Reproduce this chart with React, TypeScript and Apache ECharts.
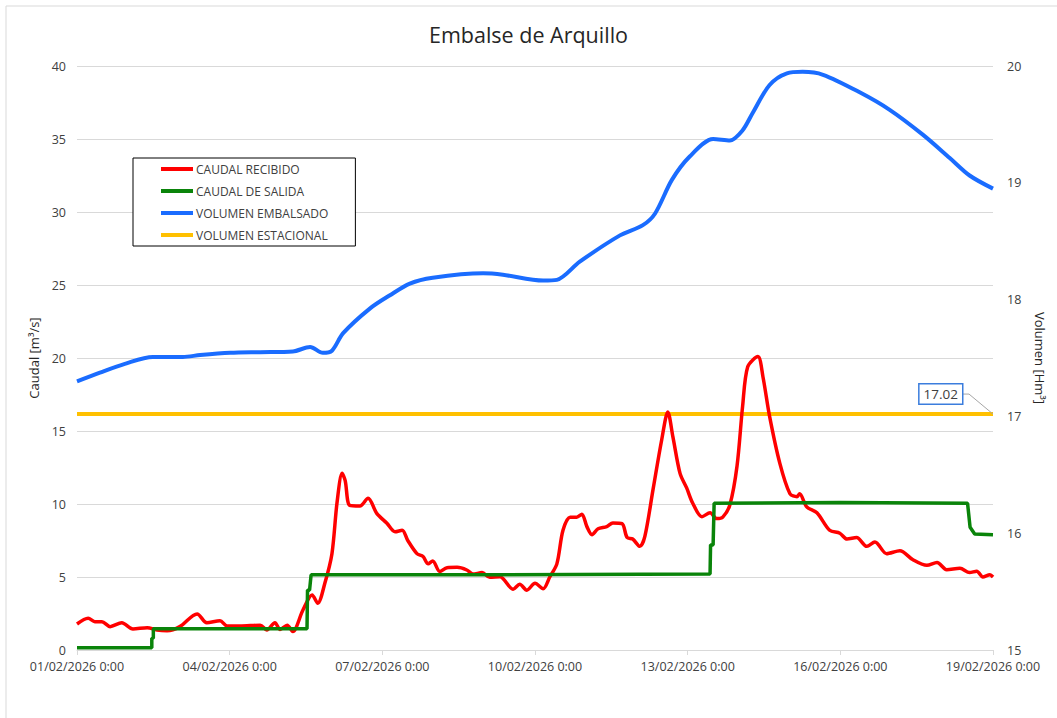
import React, { useEffect, useRef } from "react";
import * as echarts from "echarts";

const FONT = '"Open Sans", "Noto Sans", sans-serif';

const title = "Embalse de Arquillo";
const xTickLabels = [
  "01/02/2026 0:00",
  "04/02/2026 0:00",
  "07/02/2026 0:00",
  "10/02/2026 0:00",
  "13/02/2026 0:00",
  "16/02/2026 0:00",
  "19/02/2026 0:00",
];
const seriesNames = ["CAUDAL RECIBIDO", "CAUDAL DE SALIDA", "VOLUMEN EMBALSADO", "VOLUMEN ESTACIONAL"];

// days since 01/02/2026 0:00
const recibidoDias = [
  0.0, 0.22, 0.35, 0.49, 0.65, 0.88, 1.1, 1.38, 1.57, 1.77, 2.02, 2.36, 2.55, 2.81, 2.95, 3.2, 3.6, 3.73, 3.89,
  3.99, 4.13, 4.24, 4.44, 4.62, 4.73, 4.87, 5.01, 5.11, 5.21, 5.27, 5.36, 5.56, 5.72, 5.89, 6.09, 6.25, 6.39, 6.5,
  6.68, 6.8, 6.9, 6.99, 7.13, 7.27, 7.47, 7.66, 7.78, 7.96, 8.11, 8.31, 8.57, 8.7, 8.84, 9.0, 9.16, 9.29, 9.43,
  9.55, 9.69, 9.82, 9.92, 10.02, 10.12, 10.24, 10.41, 10.53, 10.71, 10.81, 10.92, 11.06, 11.16, 11.32, 11.49,
  11.61, 11.71, 11.85, 11.98, 12.1, 12.28, 12.44, 12.57, 12.69, 12.83, 12.97, 13.08, 13.18, 13.38, 13.48, 13.61,
  13.81, 14.01, 14.15, 14.2, 14.34, 14.54, 14.79, 14.99, 15.13, 15.32, 15.52, 15.68, 15.91, 16.17, 16.42, 16.7,
  16.9, 17.09, 17.35, 17.54, 17.68, 17.8, 17.94, 18.0,
];
// m3/s
const recibidoCaudal = [
  1.78, 2.17, 1.94, 1.94, 1.6, 1.87, 1.44, 1.53, 1.37, 1.32, 1.6, 2.47, 1.87, 2.0, 1.64, 1.64, 1.7, 1.37, 1.87,
  1.41, 1.7, 1.26, 2.74, 3.77, 3.2, 4.57, 6.6, 10.1, 12.1, 11.6, 9.9, 9.86, 10.4, 9.36, 8.68, 8.1, 8.2, 7.5, 6.6,
  6.4, 5.9, 6.1, 5.37, 5.64, 5.66, 5.48, 5.2, 5.3, 4.98, 5.02, 4.16, 4.5, 4.1, 4.57, 4.2, 5.0, 5.9, 8.2, 9.1, 9.1,
  9.3, 8.45, 7.9, 8.3, 8.45, 8.7, 8.65, 7.7, 7.6, 7.1, 7.8, 11.0, 14.4, 16.3, 14.6, 12.1, 11.1, 10.05, 9.13, 9.4,
  9.0, 9.1, 9.95, 12.6, 16.7, 19.4, 20.1, 18.7, 16.0, 12.8, 10.7, 10.5, 10.7, 9.8, 9.4, 8.2, 8.0, 7.6, 7.7, 7.1,
  7.4, 6.6, 6.8, 6.2, 5.8, 6.0, 5.5, 5.6, 5.3, 5.4, 5.0, 5.15, 5.0,
];

const salidaDias = [
  0, 1.47, 1.47, 1.5, 1.5, 4.52, 4.53, 4.57, 4.6, 8.0, 12.44, 12.45, 12.5, 12.52, 15.0, 17.5, 17.55, 17.64, 18.0,
];
const salidaCaudal = [
  0.15, 0.15, 0.8, 0.8, 1.45, 1.45, 4.1, 4.1, 5.15, 5.15, 5.2, 7.2, 7.2, 10.05, 10.1, 10.05, 8.4, 7.95, 7.9,
];

const embalsadoDias = [
  0.0, 0.45, 0.94, 1.49, 2.08, 2.42, 3.01, 3.6, 4.24, 4.58, 4.83, 5.01, 5.23, 5.76, 6.15, 6.54, 6.99, 7.98, 8.37,
  9.16, 9.43, 9.88, 10.67, 11.12, 11.36, 11.69, 12.04, 12.5, 12.83, 13.08, 13.28, 13.61, 13.95, 14.26, 14.66,
  15.38, 15.97, 16.62, 17.15, 17.54, 18.0,
];
// Hm3
const embalsadoVolumen = [
  17.3, 17.375, 17.45, 17.509, 17.509, 17.525, 17.544, 17.55, 17.556, 17.594, 17.544, 17.5625, 17.7125, 17.925,
  18.0375, 18.1375, 18.1875, 18.225, 18.2125, 18.1625, 18.169, 18.325, 18.55, 18.6375, 18.7375, 19.025, 19.225,
  19.375, 19.3625, 19.45, 19.6, 19.8375, 19.9375, 19.95, 19.925, 19.775, 19.625, 19.4125, 19.2125, 19.0625, 18.95,
];

const estacionalDias = [0, 18];
const estacionalVolumen = [17.02, 17.02];

const pairs = (xs: number[], ys: number[]) => xs.map((x, i) => [x, ys[i]]);

export default function App() {
  const ref = useRef<HTMLDivElement>(null);
  useEffect(() => {
    document.body.style.margin = "0";
    const chart = echarts.init(ref.current!, null, { renderer: "svg" });
    const axisText = { color: "#404040", fontFamily: FONT, fontSize: 12.5 };
    chart.setOption({
      animation: false,
      backgroundColor: "#fff",
      textStyle: { fontFamily: FONT },
      title: {
        text: title,
        left: "center",
        top: 18,
        textStyle: { fontFamily: FONT, fontSize: 21.5, fontWeight: "normal", color: "#262626" },
      },
      legend: {
        orient: "vertical",
        left: 133,
        top: 158,
        data: seriesNames,
        icon: "rect",
        itemWidth: 32,
        itemHeight: 4,
        itemGap: 10,
        padding: [5, 27, 5, 28],
        borderColor: "#000",
        borderWidth: 1,
        backgroundColor: "#fff",
        textStyle: { fontFamily: FONT, fontSize: 12, color: "#404040", padding: [0, 0, 0, -2] },
      },
      grid: { left: 77, right: 64, top: 66, bottom: 68, containLabel: false },
      xAxis: {
        type: "value",
        min: 0,
        max: 18,
        interval: 3,
        axisLine: { lineStyle: { color: "#d9d9d9", width: 1 } },
        axisTick: { show: true, length: 5, lineStyle: { color: "#d9d9d9" } },
        splitLine: { show: false },
        axisLabel: {
          ...axisText,
          margin: 10,
          formatter: (v: number) => xTickLabels[Math.round(v / 3)] ?? "",
        },
      },
      yAxis: [
        {
          type: "value",
          min: 0,
          max: 40,
          interval: 5,
          name: "Caudal [m³/s]",
          nameLocation: "middle",
          nameGap: 32,
          nameTextStyle: { ...axisText, fontSize: 13, color: "#262626" },
          axisLine: { show: false },
          axisTick: { show: false },
          splitLine: { lineStyle: { color: "#d9d9d9", width: 1 } },
          axisLabel: { ...axisText, margin: 11 },
        },
        {
          type: "value",
          min: 15,
          max: 20,
          interval: 1,
          name: "Volumen [Hm³]",
          nameLocation: "middle",
          nameGap: 40,
          nameRotate: -90,
          nameTextStyle: { ...axisText, fontSize: 13, color: "#262626" },
          axisLine: { show: false },
          axisTick: { show: false },
          splitLine: { show: false },
          axisLabel: { ...axisText, margin: 14 },
        },
      ],
      series: [
        {
          name: seriesNames[0],
          type: "line",
          yAxisIndex: 0,
          data: pairs(recibidoDias, recibidoCaudal),
          showSymbol: false,
          symbol: "none",
          smooth: 0.3,
          lineStyle: { color: "#ff0000", width: 3.5 },
          itemStyle: { color: "#ff0000" },
          z: 3,
        },
        {
          name: seriesNames[1],
          type: "line",
          yAxisIndex: 0,
          data: pairs(salidaDias, salidaCaudal),
          showSymbol: false,
          symbol: "none",
          lineStyle: { color: "#0a840a", width: 3.5 },
          itemStyle: { color: "#0a840a" },
          z: 4,
        },
        {
          name: seriesNames[2],
          type: "line",
          yAxisIndex: 1,
          data: pairs(embalsadoDias, embalsadoVolumen),
          showSymbol: false,
          symbol: "none",
          smooth: 0.3,
          lineStyle: { color: "#1a6cff", width: 4 },
          itemStyle: { color: "#1a6cff" },
          z: 5,
        },
        {
          name: seriesNames[3],
          type: "line",
          yAxisIndex: 1,
          data: pairs(estacionalDias, estacionalVolumen),
          showSymbol: false,
          symbol: "none",
          lineStyle: { color: "#ffc000", width: 4 },
          itemStyle: { color: "#ffc000" },
          z: 2,
        },
      ],
    });
    // data label of the last point of VOLUMEN ESTACIONAL, placed from the axis scales
    const lastIdx = estacionalDias.length - 1;
    const p = chart.convertToPixel({ xAxisIndex: 0, yAxisIndex: 1 }, [
      estacionalDias[lastIdx],
      estacionalVolumen[lastIdx],
    ]) as number[];
    chart.setOption({
      graphic: [
        {
          type: "rect",
          shape: { x: 6, y: 6, width: 1070, height: 720 },
          style: { fill: "none", stroke: "#d9d9d9", lineWidth: 1 },
          silent: true,
          z: -10,
        },
        {
          type: "polyline",
          shape: {
            points: [
              [p[0], p[1]],
              [p[0] - 24, p[1] - 20],
              [p[0] - 31, p[1] - 20],
            ],
          },
          style: { fill: "none", stroke: "#a6a6a6", lineWidth: 1 },
          silent: true,
          z: 10,
        },
        {
          type: "text",
          x: p[0] - 31,
          y: p[1] - 20,
          style: {
            text: estacionalVolumen[lastIdx].toFixed(2),
            align: "right",
            verticalAlign: "middle",
            fill: "#404040",
            font: `13.5px ${FONT}`,
            backgroundColor: "#fff",
            borderColor: "#3b7ddd",
            borderWidth: 1.5,
            padding: [3, 4, 2, 4],
          },
          silent: true,
          z: 11,
        },
      ],
    });
    return () => chart.dispose();
  }, []);
  return <div ref={ref} style={{ width: 1057, height: 718 }} />;
}
